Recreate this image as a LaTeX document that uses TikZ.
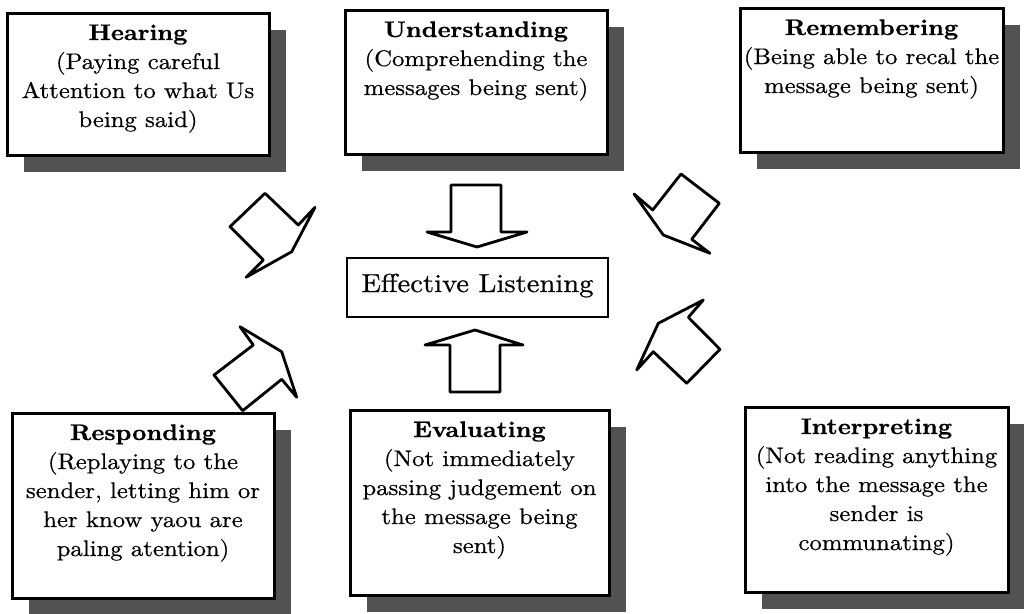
\documentclass[tikz,border=0pt]{standalone}
\usepackage{fontspec}
\setmainfont{lmroman10-regular.otf}[BoldFont=lmroman10-bold.otf, FakeStretch=1.1, UprightFeatures={FakeBold=0.6}, BoldFeatures={FakeBold=0.8}]
\usetikzlibrary{shadows}
\tikzset{
  card/.style={draw=black, line width=3pt, fill=white, inner sep=0pt,
    drop shadow={shadow xshift=17pt, shadow yshift=-17pt, fill=black!68, opacity=1}},
  goalbox/.style={draw=black, line width=2.4pt, fill=white, inner sep=0pt,
    minimum width=261pt, minimum height=59pt, text height=18pt, text depth=9pt,
    font=\fontsize{26}{30}\selectfont},
  blockarrow/.style={draw=black, line width=2.8pt, fill=white, line join=round}
}
\newcommand\cardtext[3]{\parbox[c][#2pt][t]{#1pt}{\centering\fontsize{22.5}{29}\selectfont\rule{0pt}{27pt}#3}}
\begin{document}
\begin{tikzpicture}[x=1pt,y=-1pt]
\fill[white] (0,0) rectangle (1024,613);
\useasboundingbox (0,0) rectangle (1024,613);

\node[card] (hear) at (138,84) {\cardtext{262}{142}{\textbf{Hearing}\\(Paying careful\\Attention to what Us\\being said)}};
\node[card] (under) at (476,82) {\cardtext{262}{144}{\textbf{Understanding}\\(Comprehending the\\messages being sent)}};
\node[card] (remem) at (871.5,80) {\cardtext{263}{144}{\textbf{Remembering}\\(Being able to recal the\\message being sent)}};
\node[card] (resp) at (143,505.5) {\cardtext{262}{185}{\textbf{Responding}\\(Replaying to the\\sender, letting him or\\her know yaou are\\paling atention)}};
\node[card] (eval) at (479.5,502.5) {\cardtext{259}{185}{\textbf{Evaluating}\\(Not immediately\\passing judgement on\\the message being\\sent)}};
\node[card] (interp) at (876.5,499.5) {\cardtext{263}{185}{\textbf{Interpreting}\\(Not reading anything\\into the message the\\sender is\\communating)}};

\node[goalbox] (goal) at (477.5,287.5) {Effective Listening};

% block arrows
\draw[blockarrow] (451,185) -- (501,185) -- (501,232) -- (527,232) -- (477,247) -- (427,232) -- (451,232) -- cycle;
\draw[blockarrow] (450,392) -- (450,345) -- (425,345) -- (475,330) -- (523,345) -- (500,345) -- (500,392) -- cycle;
\draw[blockarrow] (265,193.3) -- (230,226.7) -- (263.3,260) -- (246,277.3) -- (291.7,251.7) -- (315,207.3) -- (298.3,225) -- cycle;
\draw[blockarrow] (681,174) -- (719.3,203.3) -- (691.7,239.3) -- (710,253.3) -- (663.3,235) -- (634,194) -- (652.7,210) -- cycle;
\draw[blockarrow] (240,326.7) -- (253.3,345) -- (214,375) -- (242.7,410.7) -- (281.7,379.3) -- (296.7,397.3) -- (281.7,351.7) -- cycle;
\draw[blockarrow] (703.3,300) -- (688.3,317.3) -- (720,349.3) -- (686.7,383.3) -- (653.3,351.7) -- (636.7,370) -- (658.3,323.3) -- cycle;
\end{tikzpicture}
\end{document}
